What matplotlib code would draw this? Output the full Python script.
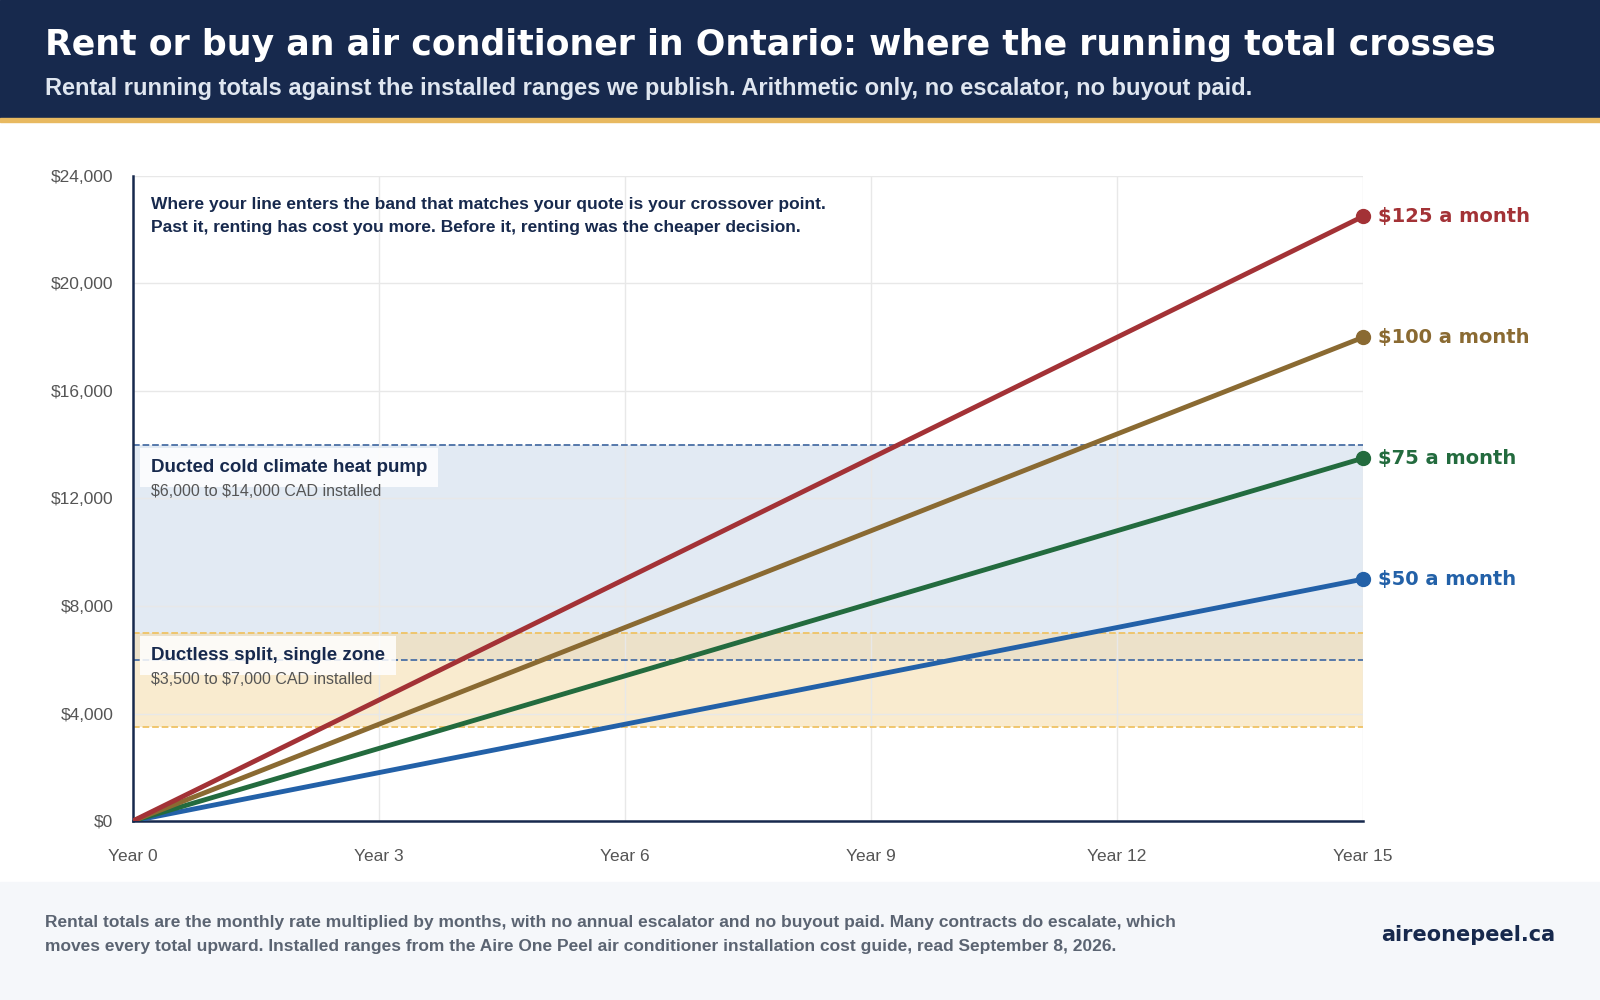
import matplotlib.pyplot as plt
from matplotlib.patches import Rectangle

years = [0, 15]
rates = [50, 75, 100, 125]
totals_y15 = [9000, 13500, 18000, 22500]
labels = ['$50 a month', '$75 a month', '$100 a month', '$125 a month']
colors = ['#2361a8', '#236b3e', '#8a6a32', '#a33236']
bands = [(6000, 14000, 'Ducted cold climate heat pump', r'\$6,000 to \$14,000 CAD installed'),
         (3500, 7000, 'Ductless split, single zone', r'\$3,500 to \$7,000 CAD installed')]
xticks = [0, 3, 6, 9, 12, 15]
yticks = [0, 4000, 8000, 12000, 16000, 20000, 24000]

plt.rcParams['font.family'] = ['Liberation Sans', 'DejaVu Sans']
fig = plt.figure(figsize=(16, 10), dpi=100)

# header and footer
fig.patches.append(Rectangle((0, 0.882), 1, 0.118, transform=fig.transFigure, color='#17294d', zorder=0))
fig.patches.append(Rectangle((0, 0.878), 1, 0.004, transform=fig.transFigure, color='#e8b960', zorder=0))
fig.patches.append(Rectangle((0, 0), 1, 0.118, transform=fig.transFigure, color='#f5f7fa', zorder=0))
fig.text(0.028, 0.955, 'Rent or buy an air conditioner in Ontario: where the running total crosses',
         color='white', fontsize=25, fontweight='bold', va='center', family='DejaVu Sans')
fig.text(0.028, 0.912, 'Rental running totals against the installed ranges we publish. Arithmetic only, no escalator, no buyout paid.',
         color='#dfe6f0', fontsize=17, fontweight='bold', va='center')
fig.text(0.028, 0.065, 'Rental totals are the monthly rate multiplied by months, with no annual escalator and no buyout paid. Many contracts do escalate, which\n'
         'moves every total upward. Installed ranges from the Aire One Peel air conditioner installation cost guide, read September 8, 2026.',
         color='#5b6472', fontsize=12.5, fontweight='bold', va='center', linespacing=1.75)
fig.text(0.972, 0.065, 'aireonepeel.ca', color='#17294d', fontsize=15, fontweight='bold', va='center', ha='right',
         family='DejaVu Sans')

ax = fig.add_axes([0.083, 0.179, 0.769, 0.645])
ax.set_xlim(0, 15)
ax.set_ylim(0, 24000)

# bands
ax.axhspan(bands[0][0], bands[0][1], color='#dbe5f0', alpha=0.8, lw=0, zorder=0)
ax.axhspan(bands[1][0], bands[1][1], color='#f5dba8', alpha=0.55, lw=0, zorder=0)
for y in bands[0][:2]:
    ax.axhline(y, color='#4a6fa5', ls='--', lw=1.3, zorder=1)
for y in bands[1][:2]:
    ax.axhline(y, color='#efc365', ls='--', lw=1.3, zorder=1)
for (lo, hi, title, sub) in bands:
    ax.text(0.22, hi - 850, title, fontsize=13.5, fontweight='bold', color='#17294d', va='center', zorder=5,
            bbox=dict(facecolor='white', alpha=0.85, edgecolor='none', boxstyle='square,pad=0.6'))
    ax.text(0.22, hi - 1750, sub, fontsize=11.5, color='#555', va='center', zorder=5)

for r, tot, lab, c in zip(rates, totals_y15, labels, colors):
    ax.plot(years, [0, tot], color=c, lw=3.5, zorder=3)
    ax.plot([15], [tot], 'o', color=c, ms=10, zorder=4, clip_on=False)
    ax.text(15.18, tot, lab, color=c, fontsize=14, fontweight='bold', va='center', clip_on=False,
            family='DejaVu Sans')

ax.text(0.22, 23200, 'Where your line enters the band that matches your quote is your crossover point.\n'
        'Past it, renting has cost you more. Before it, renting was the cheaper decision.',
        fontsize=12.5, fontweight='bold', color='#17294d', va='top', linespacing=1.6)

ax.set_xticks(xticks)
ax.set_xticklabels([f'Year {x}' for x in xticks])
ax.set_yticks(yticks)
ax.set_yticklabels([f'${y:,}' for y in yticks])
ax.tick_params(length=0, labelsize=12.5, colors='#555')
ax.tick_params(axis='x', pad=20)
ax.tick_params(axis='y', pad=14)
ax.grid(color='#e8e8e8', lw=1)
ax.set_axisbelow(True)
for s in ['top', 'right']:
    ax.spines[s].set_visible(False)
for s in ['left', 'bottom']:
    ax.spines[s].set_color('#17294d')
    ax.spines[s].set_linewidth(1.8)

fig.savefig('out.png', dpi=100)
